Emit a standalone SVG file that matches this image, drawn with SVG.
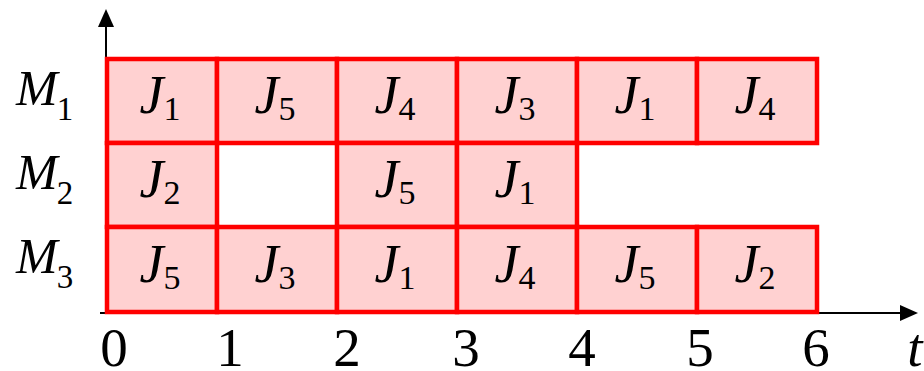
<svg xmlns="http://www.w3.org/2000/svg" width="924" height="371" viewBox="0 0 924 371">
<style>
.cell{fill:#ffd1d1;stroke:#ff0000;stroke-width:4.5}
.j{font-family:"Liberation Serif","Times New Roman",serif;font-size:54px;font-style:italic;fill:#000;text-anchor:middle}
.sub{font-style:normal;font-size:34px}
.m{font-family:"Liberation Serif","Times New Roman",serif;font-size:50px;font-style:italic;fill:#000}
.msub{font-style:normal;font-size:33px}
.tick{font-family:"Liberation Serif","Times New Roman",serif;font-size:55px;fill:#000;text-anchor:middle}
.ax{stroke:#000;stroke-width:2;fill:none}
</style>
<defs>
<marker id="arr" viewBox="0 0 18 16" refX="0" refY="8" markerWidth="18" markerHeight="16" markerUnits="userSpaceOnUse" orient="auto">
<path d="M0,0 L18,8 L0,16 Z" fill="#000"/>
</marker>
</defs>
<g id="connectors">
<line class="ax" x1="106" y1="313" x2="106" y2="27" marker-end="url(#arr)"/>
<line class="ax" x1="100" y1="313" x2="900" y2="313" marker-end="url(#arr)"/>
</g>
<g id="labels">
<text class="m" x="16" y="105">M<tspan class="msub" dx="-1" dy="15">1</tspan></text>
<text class="m" x="16" y="189">M<tspan class="msub" dx="-1" dy="15">2</tspan></text>
<text class="m" x="16" y="273">M<tspan class="msub" dx="-1" dy="15">3</tspan></text>
<text class="tick" x="114" y="366">0</text>
<text class="tick" x="230" y="366">1</text>
<text class="tick" x="347" y="366">2</text>
<text class="tick" x="466" y="366">3</text>
<text class="tick" x="582" y="366">4</text>
<text class="tick" x="700" y="366">5</text>
<text class="tick" x="816" y="366">6</text>
<text class="tick" x="915" y="366" font-style="italic">t</text>
</g>
<g id="m1-1"><rect class="cell" x="107" y="59" width="110" height="84"/><text class="j" x="160" y="113">J<tspan class="sub" dy="7">1</tspan></text></g>
<g id="m1-2"><rect class="cell" x="217" y="59" width="120" height="84"/><text class="j" x="275" y="113">J<tspan class="sub" dy="7">5</tspan></text></g>
<g id="m1-3"><rect class="cell" x="337" y="59" width="120" height="84"/><text class="j" x="395" y="113">J<tspan class="sub" dy="7">4</tspan></text></g>
<g id="m1-4"><rect class="cell" x="457" y="59" width="120" height="84"/><text class="j" x="515" y="113">J<tspan class="sub" dy="7">3</tspan></text></g>
<g id="m1-5"><rect class="cell" x="577" y="59" width="120" height="84"/><text class="j" x="635" y="113">J<tspan class="sub" dy="7">1</tspan></text></g>
<g id="m1-6"><rect class="cell" x="697" y="59" width="120" height="84"/><text class="j" x="755" y="113">J<tspan class="sub" dy="7">4</tspan></text></g>
<g id="m2-1"><rect class="cell" x="107" y="143" width="110" height="84"/><text class="j" x="160" y="197">J<tspan class="sub" dy="7">2</tspan></text></g>
<g id="m2-3"><rect class="cell" x="337" y="143" width="120" height="84"/><text class="j" x="395" y="197">J<tspan class="sub" dy="7">5</tspan></text></g>
<g id="m2-4"><rect class="cell" x="457" y="143" width="120" height="84"/><text class="j" x="515" y="197">J<tspan class="sub" dy="7">1</tspan></text></g>
<g id="m3-1"><rect class="cell" x="107" y="227" width="110" height="85"/><text class="j" x="160" y="282">J<tspan class="sub" dy="7">5</tspan></text></g>
<g id="m3-2"><rect class="cell" x="217" y="227" width="120" height="85"/><text class="j" x="275" y="282">J<tspan class="sub" dy="7">3</tspan></text></g>
<g id="m3-3"><rect class="cell" x="337" y="227" width="120" height="85"/><text class="j" x="395" y="282">J<tspan class="sub" dy="7">1</tspan></text></g>
<g id="m3-4"><rect class="cell" x="457" y="227" width="120" height="85"/><text class="j" x="515" y="282">J<tspan class="sub" dy="7">4</tspan></text></g>
<g id="m3-5"><rect class="cell" x="577" y="227" width="120" height="85"/><text class="j" x="635" y="282">J<tspan class="sub" dy="7">5</tspan></text></g>
<g id="m3-6"><rect class="cell" x="697" y="227" width="120" height="85"/><text class="j" x="755" y="282">J<tspan class="sub" dy="7">2</tspan></text></g>
</svg>
